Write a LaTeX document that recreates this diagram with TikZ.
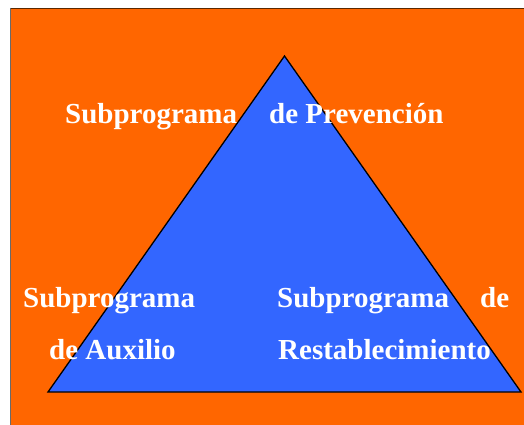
\documentclass[tikz,border=0pt]{standalone}
\usepackage{fontspec}
\setmainfont{Liberation Serif}
\definecolor{bgorange}{HTML}{FF6600}
\definecolor{triblue}{HTML}{3366FF}
\definecolor{topedge}{HTML}{5A2800}
\definecolor{leftedge}{HTML}{6A6A6A}
\begin{document}
\begin{tikzpicture}[x=1pt,y=-1pt,
  lbl/.style={anchor=base west,inner sep=0pt,text=white,font=\fontsize{29}{34}\selectfont\bfseries}]
\useasboundingbox (0,0) rectangle (524,425);
\fill[white] (0,0) rectangle (524,425);
\fill[bgorange] (10,8) rectangle (524,425);
\draw[topedge,line width=1.5pt] (10,8.75) -- (524,8.75);
\draw[leftedge,line width=1.2pt] (10.6,8) -- (10.6,425);
\coordinate (apex) at (284.5,56);
\coordinate (bl) at (48,392);
\coordinate (br) at (521,392);
\draw[fill=triblue,line width=1.3pt,line join=miter] (apex) -- (bl) -- (br) -- cycle;
\node[lbl] (p1) at (65,123) {Subprograma};
\node[lbl] (p2) at (269,123) {de Prevención};
\node[lbl] (a1) at (23,307) {Subprograma};
\node[lbl] (a2) at (49,359) {de Auxilio};
\node[lbl] (r1) at (277,307) {Subprograma};
\node[lbl] (r2) at (480,307) {de};
\node[lbl] (r3) at (278,359) {Restablecimiento};
\end{tikzpicture}
\end{document}
